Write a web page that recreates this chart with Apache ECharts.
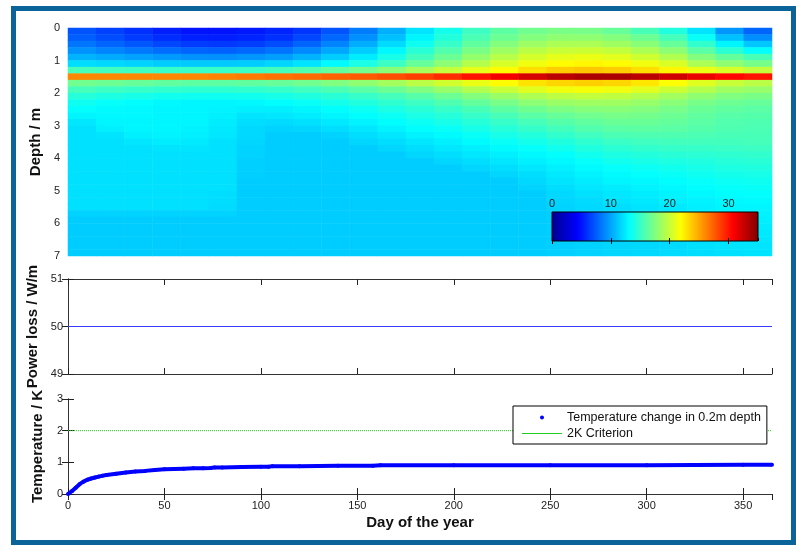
<!DOCTYPE html>
<html>
<head>
<meta charset="utf-8">
<title>Soil temperature around a buried cable</title>
<script src="https://cdn.jsdelivr.net/npm/echarts@6/dist/echarts.min.js"></script>
<style>
  html, body { margin: 0; padding: 0; background: #fff; }
  #chart { width: 796px; height: 545px; }
</style>
</head>
<body>
<div id="chart"></div>
<script>
// heatmap cells: day of year (cell centre) and depth in m (cell centre)
const gridDays = [7, 22, 37, 51, 66, 80, 95, 110, 124, 139, 153, 168, 183, 197, 212, 226, 241, 256, 270, 285, 299, 314, 329, 343, 358];
const gridDepths = [0.1, 0.3, 0.5, 0.7, 0.9, 1.1, 1.3, 1.5, 1.7, 1.9, 2.1, 2.3, 2.5, 2.7, 2.9, 3.1, 3.3, 3.5,
  3.7, 3.9, 4.1, 4.3, 4.5, 4.7, 4.9, 5.1, 5.3, 5.5, 5.7, 5.9, 6.1, 6.3, 6.5, 6.7, 6.9];
// soil temperature (degC), one row per depth
const soilTemp = [
  [7.2,6.6,6.0,5.4,5.0,5.0,5.2,5.6,6.2,7.2,8.6,10.4,12.2,13.8,15.2,16.3,17.0,17.3,17.2,16.6,15.6,14.2,12.2,9.5,7.8],
  [7.6,7.0,6.4,5.9,5.5,5.4,5.6,6.0,6.8,7.9,9.3,11.0,12.8,14.3,15.7,16.8,17.6,18.0,18.0,17.6,16.8,15.5,13.4,11.0,9.2],
  [8.4,7.8,7.3,6.8,6.4,6.3,6.5,7.0,7.8,8.9,10.3,11.9,13.6,15.0,16.4,17.6,18.5,19.0,19.0,18.6,17.8,16.6,14.8,12.8,11.2],
  [9.4,8.9,8.5,8.1,7.8,7.7,7.9,8.3,9.1,10.1,11.4,12.9,14.5,15.9,17.3,18.5,19.5,20.0,20.1,19.8,19.0,17.9,16.2,14.6,13.2],
  [10.5,10.2,9.9,9.6,9.4,9.3,9.5,9.8,10.5,11.4,12.5,13.9,15.4,16.8,18.2,19.4,20.4,21.0,21.2,20.9,20.2,19.2,17.6,16.5,15.6],
  [12.0,11.8,11.6,11.4,11.3,11.3,11.4,11.7,12.2,13.0,14.0,15.2,16.6,17.9,19.3,20.5,21.4,22.0,22.2,22.0,21.4,20.6,19.0,18.0,17.2],
  [15.5,15.3,15.2,15.0,15.0,15.0,15.1,15.4,15.8,16.4,17.0,17.8,18.8,19.8,21.0,22.0,23.0,23.6,23.8,23.6,23.0,22.2,21.2,20.5,19.8],
  [26.0,26.0,26.0,26.0,26.0,26.2,26.5,26.8,27.0,27.3,27.6,28.0,28.5,29.2,30.0,31.0,32.0,33.0,33.5,33.5,33.0,32.2,31.3,30.5,30.0],
  [17.0,16.8,16.6,16.4,16.3,16.3,16.4,16.6,17.0,17.5,18.0,18.7,19.5,20.3,21.2,22.0,22.8,23.3,23.5,23.3,22.7,21.8,20.8,20.0,19.5],
  [15.5,15.2,15.0,14.8,14.7,14.7,14.8,15.0,15.3,15.7,16.2,16.8,17.5,18.3,19.2,20.0,20.8,21.4,21.6,21.4,20.9,20.1,19.3,18.6,18.3],
  [14.4,14.1,13.9,13.7,13.6,13.6,13.7,13.9,14.2,14.5,15.0,15.5,16.1,16.8,17.6,18.4,19.1,19.6,19.8,19.7,19.3,18.7,18.0,17.5,17.3],
  [13.6,13.3,13.1,12.9,12.8,12.8,12.9,13.1,13.4,13.8,14.2,14.7,15.2,15.8,16.5,17.2,17.9,18.4,18.6,18.6,18.3,17.8,17.2,16.8,16.6],
  [13.2,13.0,12.9,12.8,12.8,12.7,12.6,12.6,12.8,13.1,13.5,14.0,14.5,15.0,15.6,16.3,16.9,17.4,17.7,17.8,17.6,17.2,16.7,16.4,16.2],
  [12.8,12.9,12.9,12.8,12.8,12.6,12.2,12.3,12.5,12.8,13.1,13.5,14.0,14.4,15.0,15.6,16.2,16.6,17.0,17.2,17.1,16.8,16.4,16.1,16.0],
  [12.3,12.8,12.8,12.8,12.8,12.5,12.0,11.9,12.1,12.4,12.7,13.1,13.5,13.9,14.4,15.0,15.5,16.0,16.4,16.7,16.7,16.5,16.2,15.9,15.8],
  [12.1,12.6,12.8,12.8,12.7,12.4,11.8,11.6,11.7,12.0,12.3,12.7,13.1,13.4,13.9,14.4,14.9,15.4,15.9,16.2,16.3,16.2,16.0,15.8,15.7],
  [12.1,12.2,12.6,12.7,12.6,12.3,11.8,11.4,11.4,11.6,12.0,12.3,12.7,13.0,13.4,13.9,14.3,14.8,15.3,15.7,15.8,15.8,15.7,15.6,15.6],
  [12.1,12.1,12.3,12.5,12.4,12.1,11.7,11.4,11.4,11.4,11.7,12.0,12.3,12.6,13.0,13.4,13.8,14.2,14.7,15.1,15.3,15.4,15.4,15.4,15.5],
  [12.1,12.1,12.1,12.2,12.2,12.1,11.6,11.4,11.4,11.4,11.4,11.7,12.0,12.3,12.6,13.0,13.3,13.7,14.2,14.6,14.8,15.0,15.0,15.1,15.2],
  [12.1,12.1,12.1,12.1,12.1,12.1,11.6,11.4,11.4,11.4,11.4,11.4,11.7,12.0,12.3,12.6,12.9,13.2,13.7,14.1,14.3,14.5,14.6,14.7,14.8],
  [12.1,12.1,12.1,12.1,12.1,12.1,11.5,11.4,11.4,11.4,11.4,11.4,11.4,11.7,12.0,12.3,12.6,12.9,13.3,13.7,13.9,14.1,14.2,14.4,14.5],
  [12.1,12.1,12.1,12.1,12.1,12.1,11.5,11.4,11.4,11.4,11.4,11.4,11.4,11.4,11.7,12.0,12.3,12.6,13.0,13.3,13.5,13.7,13.9,14.1,14.2],
  [12.1,12.1,12.1,12.1,12.1,12.1,11.5,11.4,11.4,11.4,11.4,11.4,11.4,11.4,11.4,11.7,12.0,12.4,12.7,13.0,13.2,13.4,13.6,13.8,13.9],
  [12.1,12.1,12.1,12.1,12.1,12.1,11.4,11.4,11.4,11.4,11.4,11.4,11.4,11.4,11.4,11.4,11.8,12.2,12.5,12.8,12.9,13.1,13.3,13.5,13.6],
  [12.1,12.1,12.1,12.1,12.1,12.1,11.4,11.4,11.4,11.4,11.4,11.4,11.4,11.4,11.4,11.4,11.6,12.0,12.3,12.5,12.7,12.9,13.1,13.3,13.4],
  [12.1,12.1,12.1,12.1,12.1,12.0,11.4,11.4,11.4,11.4,11.4,11.4,11.4,11.4,11.4,11.4,11.4,11.8,12.1,12.3,12.5,12.7,12.9,13.1,13.2],
  [12.1,12.1,12.1,12.1,12.1,12.0,11.4,11.4,11.4,11.4,11.4,11.4,11.4,11.4,11.4,11.4,11.4,11.7,11.9,12.2,12.4,12.6,12.7,12.9,13.0],
  [12.1,12.1,12.1,12.1,12.1,11.9,11.4,11.4,11.4,11.4,11.4,11.4,11.4,11.4,11.4,11.4,11.4,11.6,11.8,12.0,12.2,12.4,12.6,12.8,12.8],
  [11.6,11.6,11.6,11.6,11.6,11.6,11.4,11.4,11.4,11.4,11.4,11.4,11.4,11.4,11.4,11.4,11.4,11.5,11.7,11.9,12.1,12.3,12.5,12.6,12.7],
  [11.4,11.4,11.4,11.4,11.4,11.4,11.4,11.4,11.4,11.4,11.4,11.4,11.4,11.4,11.4,11.4,11.4,11.5,11.6,11.8,12.0,12.2,12.4,12.5,12.6],
  [11.4,11.4,11.4,11.4,11.4,11.4,11.4,11.4,11.4,11.4,11.4,11.4,11.4,11.4,11.4,11.4,11.4,11.5,11.6,11.7,11.9,12.1,12.3,12.4,12.5],
  [11.4,11.4,11.4,11.4,11.4,11.4,11.4,11.4,11.4,11.4,11.4,11.4,11.4,11.4,11.4,11.4,11.4,11.5,11.6,11.7,11.9,12.0,12.2,12.3,12.4],
  [11.4,11.4,11.4,11.4,11.4,11.4,11.4,11.4,11.4,11.4,11.4,11.4,11.4,11.4,11.4,11.4,11.4,11.5,11.6,11.7,11.8,12.0,12.1,12.2,12.3],
  [11.4,11.4,11.4,11.4,11.4,11.4,11.4,11.4,11.4,11.4,11.4,11.4,11.4,11.4,11.4,11.4,11.4,11.5,11.6,11.7,11.8,11.9,12.1,12.2,12.2],
  [11.4,11.4,11.4,11.4,11.4,11.4,11.4,11.4,11.4,11.4,11.4,11.4,11.4,11.4,11.4,11.4,11.4,11.5,11.6,11.7,11.8,11.9,12.0,12.1,12.2]
];

// power loss of the cable
const powerDays = [0, 365];
const powerLoss = [50, 50];

// temperature change in 0.2 m depth
const tempDays = [0, 2, 4, 6, 8, 10, 12, 14, 16, 18, 20, 25, 30, 35, 40, 45, 50, 55, 60, 65, 70, 74, 76, 80,
  90, 100, 104, 106, 120, 140, 158, 162, 200, 250, 300, 350, 365];
const tempRise = [0, 0.09, 0.2, 0.31, 0.39, 0.45, 0.49, 0.52, 0.55, 0.58, 0.6, 0.64, 0.68, 0.71, 0.73, 0.76, 0.78, 0.79, 0.8, 0.81, 0.81, 0.82, 0.84, 0.84,
  0.85, 0.86, 0.86, 0.88, 0.88, 0.89, 0.89, 0.91, 0.91, 0.91, 0.91, 0.92, 0.92];

const criterionDays = [0, 365];
const criterionK = [2, 2];

const jet = ['#00008f', '#0000ff', '#0080ff', '#00ffff', '#80ff80', '#ffff00', '#ff8000', '#ff0000', '#800000'];
const font = 'Liberation Sans, Arial, Helvetica, sans-serif';

let heatData = [];
soilTemp.forEach((row, j) => {
  row.forEach((v, i) => {
    heatData.push([i, j, v]);
  });
});

function pairs(xs, ys) {
  return xs.map((x, i) => [x, ys[i]]);
}

let myChart = echarts.init(document.getElementById('chart'));

const axisLine = { show: true, lineStyle: { color: '#333', width: 1 } };
const tick = { show: true, inside: true, length: 6, lineStyle: { color: '#222' } };
const label = { color: '#222', fontSize: 11, fontFamily: font };
const nameStyle = { color: '#111', fontSize: 15, fontWeight: 'bold', fontFamily: font };

// x axes of the two line panels: bottom one with labels, top one only ticks
function dayAxis(gridIndex, position, withLabels) {
  return {
    type: 'value', gridIndex: gridIndex, position: position,
    min: 0, max: 365, interval: 50,
    axisLine: axisLine, axisTick: tick,
    axisLabel: Object.assign({ show: withLabels, margin: 6, showMaxLabel: false }, label),
    splitLine: { show: false }
  };
}

myChart.setOption({
  animation: false,
  backgroundColor: '#fff',
  grid: [
    { left: 68, top: 28, width: 704, height: 228 },
    { left: 68, top: 279, width: 704, height: 95 },
    { left: 68, top: 399, width: 704, height: 95 },
    { left: 68, top: 28, width: 704, height: 228 },
    { left: 552, top: 212, width: 206, height: 29 }
  ],
  visualMap: {
    show: false, type: 'continuous', min: 0, max: 35,
    seriesIndex: 0, inRange: { color: jet }
  },
  xAxis: [
    { type: 'category', gridIndex: 0, data: gridDays, show: false },
    dayAxis(1, 'bottom', false),
    dayAxis(1, 'top', false),
    Object.assign(dayAxis(2, 'bottom', true), {
      name: 'Day of the year', nameLocation: 'middle', nameGap: 21, nameTextStyle: nameStyle
    }),
    dayAxis(2, 'top', false),
    { type: 'value', gridIndex: 3, min: 0, max: 365, show: false },
    {
      type: 'value', gridIndex: 4, position: 'top', min: 0, max: 35, interval: 10, z: 10,
      axisLine: { show: false },
      axisTick: { show: true, inside: true, length: 3, lineStyle: { color: '#000' } },
      axisLabel: Object.assign({ margin: 3, showMaxLabel: false }, label),
      splitLine: { show: false }
    },
    {
      type: 'value', gridIndex: 4, position: 'bottom', min: 0, max: 35, interval: 10, z: 10,
      axisLine: { show: false },
      axisTick: { show: true, inside: true, length: 3, lineStyle: { color: '#000' } },
      axisLabel: { show: false },
      splitLine: { show: false }
    }
  ],
  yAxis: [
    { type: 'category', gridIndex: 0, data: gridDepths, inverse: true, show: false },
    {
      type: 'value', gridIndex: 1, position: 'left', min: 49, max: 51, interval: 1,
      name: 'Power loss / W/m', nameLocation: 'middle', nameGap: 24, nameTextStyle: nameStyle,
      axisLine: axisLine, axisTick: tick,
      axisLabel: Object.assign({ margin: 5 }, label), splitLine: { show: false }
    },
    {
      type: 'value', gridIndex: 1, position: 'right', min: 49, max: 51, interval: 1,
      axisLine: axisLine, axisTick: tick, axisLabel: { show: false }, splitLine: { show: false }
    },
    {
      type: 'value', gridIndex: 2, position: 'left', min: 0, max: 3, interval: 1,
      name: 'Temperature / K', nameLocation: 'middle', nameGap: 23, nameTextStyle: nameStyle,
      axisLine: axisLine, axisTick: tick,
      axisLabel: Object.assign({ margin: 5 }, label), splitLine: { show: false }
    },
    {
      type: 'value', gridIndex: 2, position: 'right', min: 0, max: 3, interval: 1,
      axisLine: axisLine, axisTick: tick, axisLabel: { show: false }, splitLine: { show: false }
    },
    {
      type: 'value', gridIndex: 3, position: 'left', min: 0, max: 7, interval: 1, inverse: true,
      name: 'Depth / m', nameLocation: 'middle', nameGap: 23, nameTextStyle: nameStyle,
      axisLine: { show: false }, axisTick: { show: false },
      axisLabel: Object.assign({ margin: 8 }, label), splitLine: { show: false }
    },
    { type: 'value', gridIndex: 4, min: 0, max: 1, show: false }
  ],
  legend: {
    left: 513, top: 406, orient: 'vertical',
    backgroundColor: '#fff', borderColor: '#000', borderWidth: 1,
    padding: [5, 6, 4, 8], itemWidth: 40, itemHeight: 5, itemGap: 3,
    selectedMode: false,
    textStyle: { color: '#111', fontSize: 12.5, fontFamily: font },
    data: [
      { name: 'Temperature change in 0.2m depth', lineStyle: { opacity: 0 } },
      { name: '2K Criterion', itemStyle: { opacity: 0 }, lineStyle: { type: 'solid', width: 1 } }
    ]
  },
  graphic: [
    {
      type: 'rect', z: 10,
      shape: { x: 552, y: 212, width: 206, height: 29 },
      style: {
        fill: new echarts.graphic.LinearGradient(0, 0, 1, 0,
          jet.map((c, i) => ({ offset: i / (jet.length - 1), color: c }))),
        stroke: '#000', lineWidth: 1
      }
    },
    {
      type: 'rect', z: 10,
      shape: { x: 13.5, y: 8.5, width: 780, height: 534 },
      style: { fill: 'none', stroke: '#0a6399', lineWidth: 5 }
    }
  ],
  series: [
    {
      name: 'Soil temperature',
      type: 'heatmap', xAxisIndex: 0, yAxisIndex: 0,
      data: heatData,
      emphasis: { disabled: true }
    },
    {
      name: 'Power loss',
      type: 'line', xAxisIndex: 1, yAxisIndex: 1,
      data: pairs(powerDays, powerLoss),
      symbol: 'none',
      lineStyle: { color: '#3a3aff', width: 1 }
    },
    {
      name: '2K Criterion',
      type: 'line', xAxisIndex: 3, yAxisIndex: 3,
      data: pairs(criterionDays, criterionK),
      symbol: 'none',
      itemStyle: { color: '#22cc22' },
      lineStyle: { color: '#22cc22', width: 1, type: 'dotted' }
    },
    {
      name: 'Temperature change in 0.2m depth',
      type: 'line', xAxisIndex: 3, yAxisIndex: 3,
      data: pairs(tempDays, tempRise),
      symbol: 'circle', symbolSize: 4, showAllSymbol: true,
      itemStyle: { color: '#0000ff' },
      lineStyle: { color: '#0000ff', width: 4 }
    }
  ]
});
</script>
</body>
</html>
